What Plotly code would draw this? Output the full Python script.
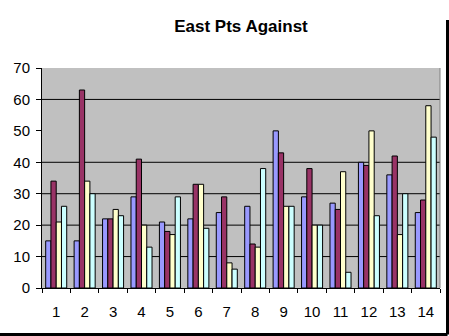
import plotly.graph_objects as go

categories = [str(i) for i in range(1, 15)]
series1 = [15, 15, 22, 29, 21, 22, 24, 26, 50, 29, 27, 40, 36, 24]
series2 = [34, 63, 22, 41, 18, 33, 29, 14, 43, 38, 25, 39, 42, 28]
series3 = [21, 34, 25, 20, 17, 33, 8, 13, 26, 20, 37, 50, 17, 58]
series4 = [26, 30, 23, 13, 29, 19, 6, 38, 26, 20, 5, 23, 30, 48]
colors = ["#9999FF", "#993366", "#FFFFCC", "#CCFFFF"]
y_ticks = [0, 10, 20, 30, 40, 50, 60, 70]
grid_values = [10, 20, 30, 40, 60]

W, H = 449, 336
ML, MR, MT, MB = 42, 9, 68, 48
pw, ph = W - ML - MR, H - MT - MB

fig = go.Figure()
for vals, c in zip([series1, series2, series3, series4], colors):
    fig.add_trace(go.Bar(x=categories, y=vals, marker=dict(color=c, line=dict(color="black", width=1))))

shapes = []
for g in grid_values:
    shapes.append(dict(type="line", xref="paper", yref="y", x0=0, x1=1, y0=g, y1=g,
                       line=dict(color="black", width=1), layer="below"))
# plot area right border
shapes.append(dict(type="line", xref="paper", yref="paper", x0=1, x1=1, y0=0, y1=1,
                   line=dict(color="#808080", width=1)))
# outer frame (right and bottom)
xr = (W - 1.5 - ML) / pw
yb = -(H - 1.5 - MT - ph) / ph
xl = -ML / pw
yt = (H - MT) / ph
shapes.append(dict(type="line", xref="paper", yref="paper", x0=xr, x1=xr, y0=yb, y1=yt,
                   line=dict(color="black", width=3)))
shapes.append(dict(type="line", xref="paper", yref="paper", x0=xl, x1=xr, y0=yb, y1=yb,
                   line=dict(color="black", width=3)))

fig.update_layout(
    width=W, height=H,
    margin=dict(l=ML, r=MR, t=MT, b=MB),
    paper_bgcolor="white", plot_bgcolor="#C0C0C0",
    barmode="group", bargap=0.26, bargroupgap=0,
    showlegend=False,
    title=dict(text="<b>East Pts Against</b>", x=0.5, xref="paper", xanchor="center",
               y=1 - 26 / H, yanchor="middle",
               font=dict(family="Arial, Liberation Sans", size=17, color="black")),
    font=dict(family="Arial, Liberation Sans", size=15, color="black"),
    shapes=shapes,
)
fig.update_xaxes(type="category", showline=True, linecolor="black", linewidth=1,
                 ticks="outside", tickson="boundaries", ticklen=4, tickcolor="black",
                 showgrid=False, ticklabelstandoff=10)
fig.update_yaxes(range=[0, 70], tickvals=y_ticks, showline=True, linecolor="black", linewidth=1,
                 ticks="outside", ticklen=5, tickcolor="black", showgrid=False,
                 zeroline=False, ticklabelstandoff=3)

fig.write_html("out.html")
